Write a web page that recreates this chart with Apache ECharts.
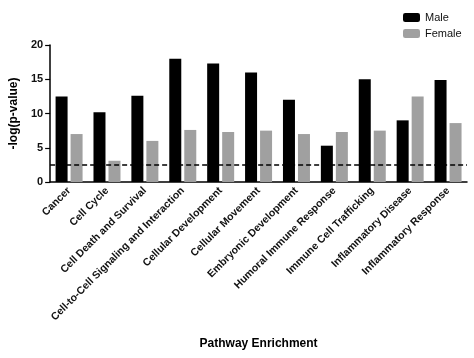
<!DOCTYPE html>
<html><head><meta charset="utf-8">
<script src="https://cdn.jsdelivr.net/npm/echarts@6/dist/echarts.min.js"></script>
<style>html,body{margin:0;padding:0;background:#fff}#c{width:474px;height:358px}</style>
</head><body><div id="c"></div>
<script>
var categories = ['Cancer','Cell Cycle','Cell Death and Survival','Cell-to-Cell Signaling and Interaction','Cellular Development','Cellular Movement','Embryonic Development','Humoral Immune Response','Immune Cell Trafficking','Inflammatory Disease','Inflammatory Response'];
var male = [12.5, 10.2, 12.6, 18.0, 17.3, 16.0, 12.0, 5.3, 15.0, 9.0, 14.9];
var female = [7.0, 3.1, 6.0, 7.6, 7.3, 7.5, 7.0, 7.3, 7.5, 12.5, 8.6];
var threshold = 2.5;
var yTicks = [0, 5, 10, 15, 20];

var chart = echarts.init(document.getElementById('c'));
var font = 'Arial, "Liberation Sans", sans-serif';
chart.setOption({
  animation: false,
  legend: {
    left: 398, top: 7, orient: 'vertical', itemWidth: 17, itemHeight: 9, itemGap: 5,
    textStyle: {fontFamily: font, fontSize: 11, color: '#111'},
    data: ['Male', 'Female']
  },
  grid: {left: 41, right: 7, top: 45, bottom: 176},
  xAxis: {
    type: 'category', data: categories,
    axisLine: {lineStyle: {color: '#000', width: 1.5}},
    axisTick: {alignWithLabel: true, length: 4, lineStyle: {color: '#000', width: 1.2}},
    axisLabel: {rotate: 45, interval: 0, fontFamily: font, fontSize: 10.5, fontWeight: 'bold', color: '#111', margin: 7},
    name: 'Pathway Enrichment', nameLocation: 'middle', nameGap: 156,
    nameTextStyle: {fontFamily: font, fontSize: 12, fontWeight: 'bold', color: '#000'}
  },
  yAxis: {
    type: 'value', min: yTicks[0], max: yTicks[yTicks.length - 1], interval: 5,
    splitLine: {show: false},
    axisLine: {show: true, lineStyle: {color: '#000', width: 1.5}},
    axisTick: {show: true, length: 5, lineStyle: {color: '#000', width: 1.2}},
    axisLabel: {fontFamily: font, fontSize: 11, fontWeight: 'bold', color: '#111', margin: 7},
    name: '-log(p-value)', nameLocation: 'middle', nameGap: 26, nameRotate: 90,
    nameTextStyle: {fontFamily: font, fontSize: 12, fontWeight: 'bold', color: '#000'}
  },
  series: [
    {name: 'Male', type: 'bar', data: male, barWidth: 12, barGap: '25%',
     itemStyle: {color: '#000'},
     markLine: {silent: true, symbol: 'none', label: {show: false},
       lineStyle: {color: '#000', type: [5, 3], width: 1.5},
       data: [{yAxis: threshold}]}},
    {name: 'Female', type: 'bar', data: female, barWidth: 12,
     itemStyle: {color: '#a0a0a0'}}
  ]
});
</script></body></html>
